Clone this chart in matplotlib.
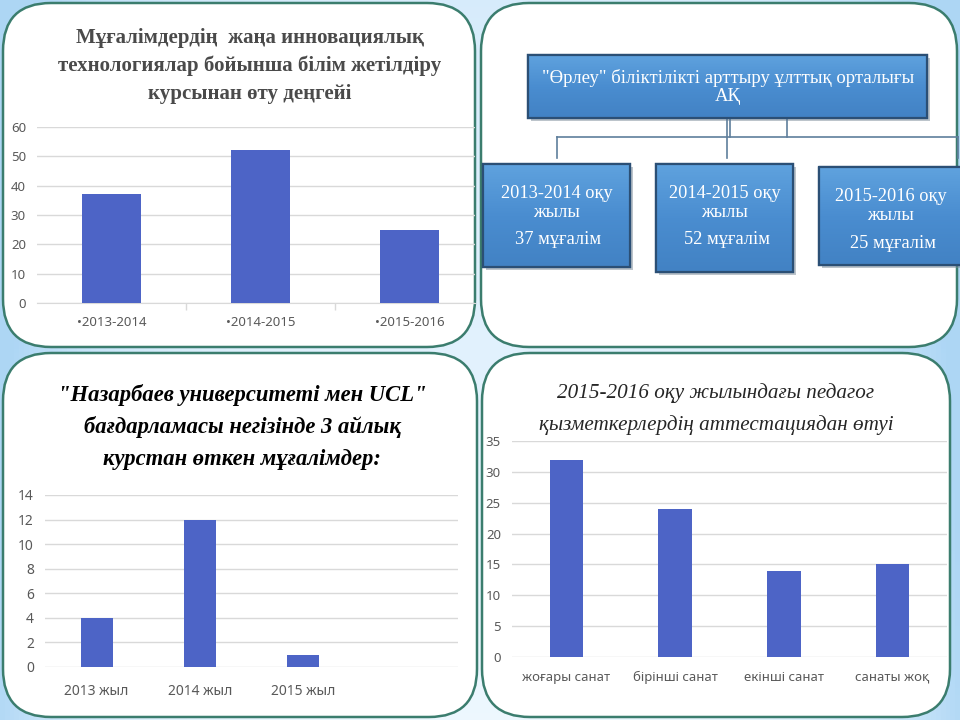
import numpy as np
import matplotlib.pyplot as plt
from matplotlib.patches import FancyBboxPatch, Rectangle
from matplotlib.colors import LinearSegmentedColormap

# --- data ---
years1 = ['•2013-2014', '•2014-2015', '•2015-2016']
teachers1 = [37, 52, 25]

years3 = ['2013 жыл', '2014 жыл', '2015 жыл']
teachers3 = [4, 12, 1]

cats4 = ['жоғары санат', 'бірінші санат', 'екінші санат', 'санаты жоқ']
teachers4 = [32, 24, 14, 15]

org_top = '"Өрлеу" біліктілікті арттыру ұлттық орталығы\nАҚ'
org_years = ['2013-2014 оқу\nжылы', '2014-2015 оқу\nжылы', '2015-2016 оқу\nжылы']
org_counts = ['37 мұғалім', '52 мұғалім', '25 мұғалім']

title1 = ['Мұғалімдердің  жаңа инновациялық',
          'технологиялар бойынша білім жетілдіру',
          'курсынан өту деңгейі']
title3 = ['"Назарбаев университеті мен UCL"',
          'бағдарламасы негізінде 3 айлық',
          'курстан өткен мұғалімдер:']
title4 = ['2015-2016 оқу жылындағы педагог',
          'қызметкерлердің аттестациядан өтуі']

BAR = '#4d64c6'
GRID = '#d9d9d9'
TICK = '#595959'
BORDER = '#3b7d6e'
SERIF = 'Liberation Serif'
SANS = 'Noto Sans'

W, H = 960, 720
fig = plt.figure(figsize=(9.6, 7.2), dpi=100)


def px_axes(x0, y0, x1, y1):
    return fig.add_axes([x0 / W, 1 - y1 / H, (x1 - x0) / W, (y1 - y0) / H])


# background
bg = px_axes(0, 0, W, H)
yy, xx = np.mgrid[0:1:200j, 0:1:200j]
w = np.clip(((xx - 0.5) * 2) ** 4 * 0.9 + (1 - yy) * 0.35, 0, 1)
light = np.array([0.93, 0.97, 1.0])
blue = np.array([0.68, 0.84, 0.96])
img = light[None, None, :] * (1 - w[..., None]) + blue[None, None, :] * w[..., None]
bg.imshow(img, extent=(0, W, H, 0), aspect='auto', zorder=0)
bg.set_xlim(0, W)
bg.set_ylim(H, 0)
bg.axis('off')

# panels
for x0, y0, x1, y1 in [(3, 3, 475, 347), (481, 3, 957, 347),
                       (3, 353, 477, 717), (482, 353, 950, 717)]:
    bg.add_patch(FancyBboxPatch((x0, y0), x1 - x0, y1 - y0,
                                boxstyle='round,pad=0,rounding_size=48',
                                fc='white', ec=BORDER, lw=1.8, zorder=1))

# titles
for i, line in enumerate(title1):
    bg.text(250, 38 + i * 28, line, ha='center', va='center', family=SERIF,
            weight='bold', fontsize=15, color='#4a4a4a', zorder=5)
for i, line in enumerate(title3):
    bg.text(242, 395 + i * 32, line, ha='center', va='center', family=SERIF,
            weight='bold', style='italic', fontsize=16.3, color='black', zorder=5)
for i, line in enumerate(title4):
    bg.text(716, 393 + i * 32, line, ha='center', va='center', family=SERIF,
            style='italic', fontsize=15.2, color='#262626', zorder=5)

# org chart
box_cmap = LinearSegmentedColormap.from_list('box', ['#5fa2de', '#4a8dd0', '#4282c4'])
grad = np.linspace(0, 1, 100)[:, None]


def org_box(x0, y0, x1, y1):
    bg.add_patch(Rectangle((x0 + 3, y0 + 3), x1 - x0, y1 - y0, fc='#7a8a99',
                           ec='none', alpha=0.5, zorder=2))
    rect = Rectangle((x0, y0), x1 - x0, y1 - y0, fc='#4a8dd0', ec='#2b4f75',
                     lw=1.6, zorder=3)
    bg.add_patch(rect)
    im = bg.imshow(grad, extent=(x0, x1, y1, y0), aspect='auto', cmap=box_cmap,
                   zorder=3.5)
    im.set_clip_path(rect)
    bg.add_patch(Rectangle((x0, y0), x1 - x0, y1 - y0, fc='none', ec='#2b4f75',
                           lw=1.6, zorder=4))


line_kw = dict(color='#5f7f9c', lw=1.2, zorder=2.5)
bg.plot([727, 727], [118, 158], **line_kw)
bg.plot([730, 730], [118, 137], **line_kw)
bg.plot([787, 787], [118, 137], **line_kw)
bg.plot([557, 958], [137, 137], **line_kw)
bg.plot([557, 557], [137, 158], **line_kw)
bg.plot([958, 958], [137, 158], **line_kw)

org_box(528, 55, 927, 118)
bg.text(728, 87, org_top, ha='center', va='center', family=SERIF, fontsize=13.5,
        color='white', linespacing=1.1, zorder=5)

boxes = [(483, 164, 630, 267), (656, 164, 793, 272), (819, 167, 962, 265)]
for (x0, y0, x1, y1), yr, cnt in zip(boxes, org_years, org_counts):
    org_box(x0, y0, x1, y1)
    cx = (x0 + x1) / 2
    bg.text(cx, y0 + 39, yr, ha='center', va='center', family=SERIF,
            fontsize=13.2, color='white', linespacing=1.1, zorder=5)
    bg.text(cx + 2, y0 + 76, cnt, ha='center', va='center', family=SERIF,
            fontsize=13.2, color='white', zorder=5)


# bar charts
def bar_chart(box, labels, values, ymax, step, width, ncat, right, xpad, fs):
    ax = px_axes(*box)
    x = np.arange(len(values))
    ax.bar(x, values, width=width, color=BAR, zorder=3)
    ax.set_xlim(-0.5, right)
    ax.set_ylim(0, ymax)
    ax.set_yticks(np.arange(0, ymax + 1, step))
    ax.set_xticks(x, labels)
    ax.grid(axis='y', color=GRID, lw=1, zorder=0)
    ax.set_facecolor('none')
    for s in ax.spines.values():
        s.set_visible(False)
    ax.tick_params(axis='x', length=0, labelsize=fs, labelcolor=TICK, pad=xpad)
    ax.tick_params(axis='y', length=0, labelsize=fs, labelcolor=TICK, pad=8)
    for t in ax.get_xticklabels() + ax.get_yticklabels():
        t.set_family(SANS)
    return ax


ax1 = bar_chart((37, 127, 475, 303), years1, teachers1, 60, 10, 0.4, 3, 2.44, 9, 9.5)
ax1.set_xticks([0.5, 1.5], minor=True)
ax1.tick_params(axis='x', which='minor', length=5, color=GRID, width=1)
ax1.spines['bottom'].set_visible(True)
ax1.spines['bottom'].set_color(GRID)

bar_chart((45, 495, 458, 667), years3, teachers3, 14, 2, 0.31, 4, 3.5, 12, 10)
bar_chart((512, 441, 947, 657), cats4, teachers4, 35, 5, 0.31, 4, 3.5, 10, 9.5)

fig.savefig('out.png', dpi=100)
